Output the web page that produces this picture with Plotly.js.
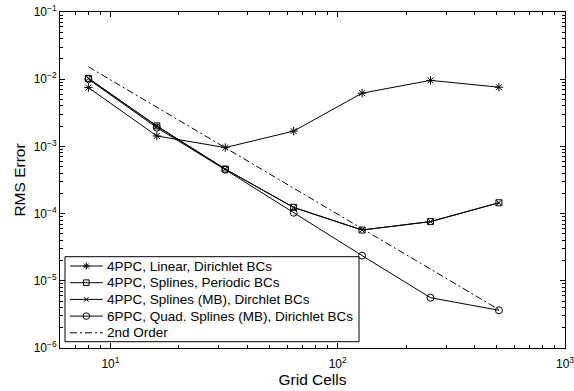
<!DOCTYPE html>
<html><head><meta charset="utf-8">
<script src="https://cdn.plot.ly/plotly-3.0.1.min.js"></script>
<style>body{margin:0;padding:0;background:#fff}#plot{width:574px;height:391px}</style>
</head><body><div id="plot"></div>
<script>
const gridCells = [8, 16, 32, 64, 128, 256, 512];
const linearDirichlet = [7.5e-3, 1.43e-3, 9.6e-4, 1.69e-3, 6.2e-3, 9.6e-3, 7.6e-3];
const splinesPeriodic = [1.03e-2, 2.02e-3, 4.6e-4, 1.24e-4, 5.7e-5, 7.6e-5, 1.45e-4];
const splinesMBDirichlet = [1.03e-2, 2.0e-3, 4.6e-4, 1.23e-4, 5.7e-5, 7.6e-5, 1.45e-4];
const quadSplinesMB = [1.0e-2, 1.9e-3, 4.5e-4, 1.03e-4, 2.37e-5, 5.6e-6, 3.64e-6];
const secondOrder = [1.53e-2, 3.82e-3, 9.6e-4, 2.39e-4, 5.97e-5, 1.49e-5, 3.73e-6];
const names = ["4PPC, Linear, Dirichlet BCs", "4PPC, Splines, Periodic BCs", "4PPC, Splines (MB), Dirchlet BCs", "6PPC, Quad. Splines (MB), Dirichlet BCs", "2nd Order"];
const xTickVals = [10, 100, 1000];
const xTickText = ["10<sup>1</sup>", "10<sup>2</sup>", "10<sup>3</sup>"];
const yTickVals = [1e-6, 1e-5, 1e-4, 1e-3, 1e-2, 1e-1];
const yTickText = ["10<sup>−6</sup>", "10<sup>−5</sup>", "10<sup>−4</sup>", "10<sup>−3</sup>", "10<sup>−2</sup>", "10<sup>−1</sup>"];

const W = 574, H = 391, M = {l: 60, r: 9, t: 12, b: 43};
const pw = W - M.l - M.r, ph = H - M.t - M.b;
const px2x = p => (p - M.l) / pw;
const px2y = p => (H - M.b - p) / ph;

const FAM = "Liberation Sans, Arial, Helvetica, sans-serif";
const ln = {color: "#000", width: 1};
const dashDot = "7px,3px,2px,3px";
const traces = [
  {x: gridCells, y: linearDirichlet, name: names[0], mode: "lines+markers", line: ln,
   marker: {symbol: "asterisk-open", size: 7, color: "#000", line: {color: "#000", width: 1}}},
  {x: gridCells, y: splinesPeriodic, name: names[1], mode: "lines+markers", line: ln,
   marker: {symbol: "square-open", size: 6, color: "#000", line: {color: "#000", width: 1}}},
  {x: gridCells, y: splinesMBDirichlet, name: names[2], mode: "lines+markers", line: ln,
   marker: {symbol: "x-thin-open", size: 5, color: "#000", line: {color: "#000", width: 1}}},
  {x: gridCells, y: quadSplinesMB, name: names[3], mode: "lines+markers", line: ln,
   marker: {symbol: "circle-open", size: 7, color: "#000", line: {color: "#000", width: 1}}},
  {x: gridCells, y: secondOrder, name: names[4], mode: "lines", line: {color: "#000", width: 1, dash: dashDot}}
];

// custom legend (MATLAB-style compact rows)
const box = {l: 65, r: 359, t: 256.7, b: 341.7};
const row0 = 266, rowStep = 16.7, lineL = 70, lineR = 102.7, mk = 86.3, textX = 105;
const shapes = [{type: "rect", xref: "paper", yref: "paper", x0: px2x(box.l), x1: px2x(box.r),
  y0: px2y(box.b), y1: px2y(box.t), line: {color: "#000", width: 1}, fillcolor: "#fff", layer: "above"}];
const annotations = [];
const mkPaths = [
  "M0,-3.5L0,3.5M-3.5,0L3.5,0M-2.5,-2.5L2.5,2.5M-2.5,2.5L2.5,-2.5",
  "M-2.8,-2.8L2.8,-2.8L2.8,2.8L-2.8,2.8Z",
  "M-2.3,-2.3L2.3,2.3M-2.3,2.3L2.3,-2.3",
  null, null
];
names.forEach((nm, i) => {
  const yy = px2y(row0 + i * rowStep);
  shapes.push({type: "line", xref: "paper", yref: "paper", x0: px2x(lineL), x1: px2x(lineR), y0: yy, y1: yy,
    line: {color: "#000", width: 1, dash: i === 4 ? dashDot : "solid"}, layer: "above"});
  if (i === 3) {
    shapes.push({type: "circle", xref: "paper", yref: "paper", xsizemode: "pixel", ysizemode: "pixel",
      xanchor: px2x(mk), yanchor: yy, x0: -3.3, x1: 3.3, y0: -3.3, y1: 3.3,
      line: {color: "#000", width: 1}, fillcolor: "rgba(0,0,0,0)", layer: "above"});
  } else if (mkPaths[i]) {
    shapes.push({type: "path", xref: "paper", yref: "paper", xsizemode: "pixel", ysizemode: "pixel",
      xanchor: px2x(mk), yanchor: yy, path: mkPaths[i],
      line: {color: "#000", width: 1}, fillcolor: "rgba(0,0,0,0)", layer: "above"});
  }
  annotations.push({xref: "paper", yref: "paper", x: px2x(textX), y: yy, xanchor: "left", yanchor: "middle",
    text: nm, showarrow: false, font: {family: FAM, size: 13.5, color: "#000"}});
});

const tickFont = {family: FAM, size: 12, color: "#000"};
const titleFont = {family: FAM, size: 15.5, color: "#000"};
const axBase = {type: "log", showgrid: false, zeroline: false, showline: true, linecolor: "#000", linewidth: 1,
  mirror: "ticks", ticks: "inside", ticklen: 5, tickcolor: "#000", tickfont: tickFont, ticklabeloverflow: "allow",
  minor: {ticks: "inside", ticklen: 3, tickcolor: "#000", dtick: "D1", showgrid: false}};
const layout = {
  width: W, height: H, margin: M,
  paper_bgcolor: "#fff", plot_bgcolor: "#fff", font: tickFont, showlegend: false,
  xaxis: Object.assign({}, axBase, {range: [Math.log10(6), 3], tickvals: xTickVals, ticktext: xTickText,
    ticklabelstandoff: 5, title: {text: "Grid Cells", font: titleFont, standoff: 1}}),
  yaxis: Object.assign({}, axBase, {range: [-6, -1], tickvals: yTickVals, ticktext: yTickText,
    title: {text: "RMS Error", font: titleFont, standoff: 4}}),
  shapes: shapes, annotations: annotations
};
Plotly.newPlot("plot", traces, layout, {staticPlot: true, displayModeBar: false});
</script></body></html>
